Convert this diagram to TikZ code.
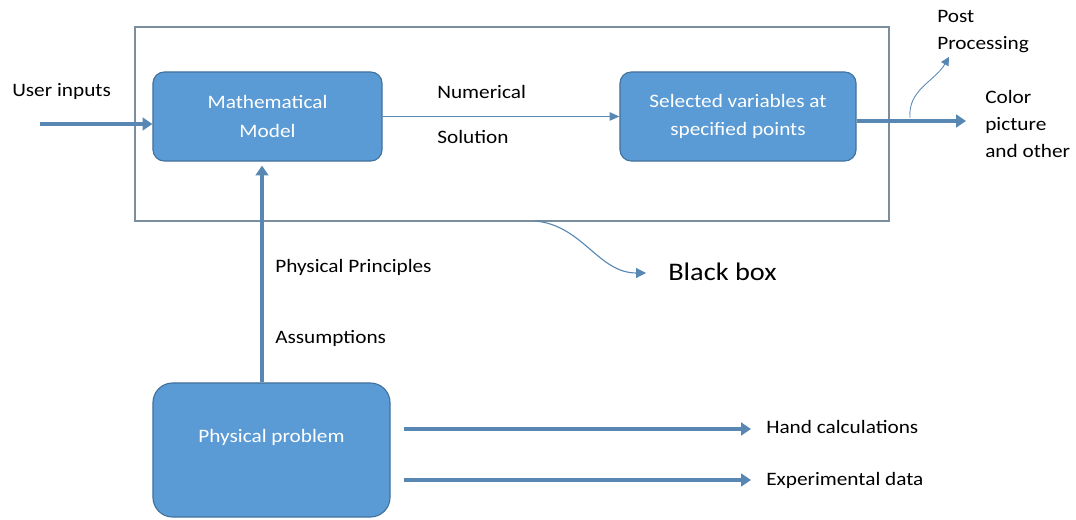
\documentclass[tikz,border=0pt]{standalone}
\usepackage{fontspec}
\setmainfont{Carlito}[FakeStretch=1.12]
\usetikzlibrary{arrows.meta, positioning, calc}

\definecolor{boxblue}{RGB}{91,155,213}
\definecolor{boxedge}{RGB}{65,113,156}
\definecolor{arrowblue}{RGB}{88,135,180}
\definecolor{frameedge}{RGB}{122,142,158}

\tikzset{
  blockbox/.style={draw=boxedge, line width=0.8pt, fill=boxblue, rounded corners=8pt,
    text=white, align=center, font=\fontsize{13.5}{20.5}\selectfont},
  plaintext/.style={inner sep=0pt, anchor=west, align=left},
  fatarrow/.style={draw=arrowblue, line width=2.9pt, -{Triangle[length=7pt,width=9pt]}},
  slimarrow/.style={draw=arrowblue, line width=1pt, -{Triangle[length=7pt,width=6pt]}}
}

\begin{document}
\begin{tikzpicture}[x=0.025cm, y=0.025cm, font=\fontsize{13.5}{19}\selectfont]
  \useasboundingbox (0,0) rectangle (1076,519);
  % --- Black box frame ---
  \node[draw=frameedge, line width=1pt, minimum width=18.85cm, minimum height=4.85cm,
    inner sep=0pt] (frame) at (512,395) {};
  % --- Blocks ---
  \node[blockbox, minimum width=5.725cm, minimum height=2.225cm] (model) at (267.5,402.5)
    {Mathematical\\Model};
  \node[blockbox, minimum width=5.9cm, minimum height=2.225cm] (select) at (738,402.5)
    {Selected variables at\\specified points};
  \node[blockbox, rounded corners=14pt, minimum width=5.925cm, minimum height=3.35cm]
    (phys) at (271.5,69)
    {\raisebox{0pt}[\height][\dimexpr\depth+0.65cm\relax]{Physical problem}};
  % --- Labels ---
  \node[plaintext] (user) at (12,427) {User inputs};
  \node[plaintext] (numer) at (437,427) {Numerical};
  \node[plaintext] (sol) at (437,382) {Solution};
  \node[plaintext] (post) at (937,487.5) {Post\\Processing};
  \node[plaintext] (colour) at (985,395) {Color\\picture\\and other};
  \node[plaintext] (princ) at (275,252) {Physical Principles};
  \node[plaintext] (assum) at (275,181) {Assumptions};
  \node[plaintext, font=\fontsize{18}{22}\selectfont] (bbox) at (668,247) {Black box};
  \node[plaintext] (hand) at (766,92) {Hand calculations};
  \node[plaintext] (exper) at (766,39) {Experimental data};
  % --- Free ends ---
  \coordinate (uin) at (40,395);
  \coordinate (outend) at (966,398);
  \coordinate (ppstart) at (910,401);
  \coordinate (bstart) at (535,298);
  \coordinate (vx) at (262,0);
  % --- Connectors ---
  \draw[fatarrow] (uin) -- (model.west |- uin);
  \draw[slimarrow] (model.east) -- (select.west);
  \draw[fatarrow] (select.east |- outend) -- (outend);
  \draw[arrowblue, line width=0.6pt, -{Triangle[length=6pt,width=6pt]}]
    (ppstart) to[out=95, in=-120] ($(post.south west)+(12,-4)$);
  \draw[fatarrow] (phys.north -| vx) -- ($(model.south -| vx)+(0,-4)$);
  \draw[arrowblue, line width=0.8pt, -{Triangle[length=7pt,width=7pt]}]
    (bstart) to[out=-5, in=180] ($(bbox.west)+(-22,-1)$);
  \draw[fatarrow] ($(phys.east |- hand.west)+(13,-2)$) -- ($(hand.west)+(-15,-2)$);
  \draw[fatarrow] ($(phys.east |- exper.west)+(13,0)$) -- ($(exper.west)+(-15,0)$);
\end{tikzpicture}
\end{document}
